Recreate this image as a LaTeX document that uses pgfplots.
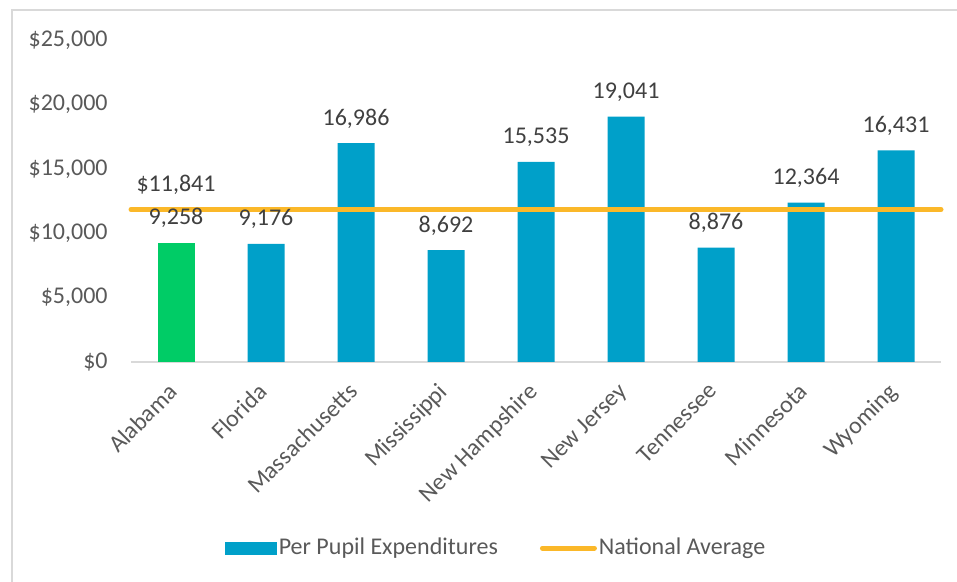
\documentclass[border=0pt]{standalone}
\usepackage{fontspec}
\setmainfont{Carlito}
\usepackage{pgfplots}
\pgfplotsset{compat=1.18}
\definecolor{barblue}{HTML}{00A0C9}
\definecolor{bargreen}{HTML}{00CC66}
\definecolor{avgorange}{HTML}{FBB829}
\definecolor{labgray}{HTML}{595959}
\definecolor{valgray}{HTML}{404040}
\definecolor{framegray}{HTML}{D9D9D9}

\begin{document}
\begin{tikzpicture}[font=\fontsize{12}{14.4}\selectfont]
\useasboundingbox (0,0) rectangle (478.5pt,291pt);
\draw[framegray, line width=1pt] (6pt,-1pt) -- (6pt,286pt) -- (480pt,286pt);
\begin{axis}[
  at={(65.5pt,110pt)}, anchor=south west,
  scale only axis, width=405pt, height=161pt,
  xmin=-0.5, xmax=8.5, ymin=0, ymax=25000,
  ytick={0,5000,...,25000},
  xtick={0,...,8},
  xticklabels={Alabama,Florida,Massachusetts,Mississippi,New Hampshire,New Jersey,Tennessee,Minnesota,Wyoming},
  axis x line*=bottom, axis y line*=left,
  x axis line style={-, draw=framegray, line width=0.75pt},
  y axis line style={draw=none},
  major tick length=0pt,
  /pgf/number format/assume math mode=true,
  /pgf/number format/1000 sep={,},
  scaled y ticks=false,
  yticklabel={\$\pgfmathprintnumber{\tick}},
  yticklabel style={text=labgray, anchor=east, inner sep=0pt, xshift=-11.5pt},
  xticklabel style={text=labgray, xshift=-4.5pt, yshift=-9.5pt, rotate=45, anchor=north east, inner sep=0pt},
  clip=false,
  legend style={at={(0.4506,-0.578)}, anchor=center, draw=none, fill=none,
    legend columns=2, text=labgray,
    /tikz/every even column/.append style={column sep=20pt},
    nodes={inner sep=1pt}},
  legend cell align=left,
]
% Per pupil expenditures (Florida .. Wyoming)
\addplot[ybar, bar shift=0pt, bar width=18.5pt, fill=barblue, draw=none,
  nodes near coords,
  nodes near coords style={text=valgray, anchor=base, yshift=9pt, inner sep=0pt},
  legend image code/.code={\fill[barblue] (0pt,-3.25pt) rectangle (26pt,3.25pt);}]
  coordinates {(1,9176) (2,16986) (3,8692) (4,15535) (5,19041) (6,8876) (7,12364) (8,16431)};
\addlegendentry{Per Pupil Expenditures}
% Alabama highlighted
\addplot[ybar, bar shift=0pt, bar width=18.5pt, fill=bargreen, draw=none, forget plot,
  nodes near coords,
  nodes near coords style={text=valgray, anchor=base, yshift=9pt, inner sep=0pt}]
  coordinates {(0,9258)};
% national average
\addplot[avgorange, line width=2.5pt, line cap=round, mark=none,
  legend image code/.code={\draw[avgorange, line width=2.5pt, line cap=round] (1pt,0pt) -- (27pt,0pt);}]
  coordinates {(-0.5,11841) (8.5,11841)};
\addlegendentry{National Average}
\node[text=valgray, anchor=base, yshift=9pt, inner sep=0pt] at (axis cs:0,11841) {\$11,841};
\end{axis}
\end{tikzpicture}
\end{document}
